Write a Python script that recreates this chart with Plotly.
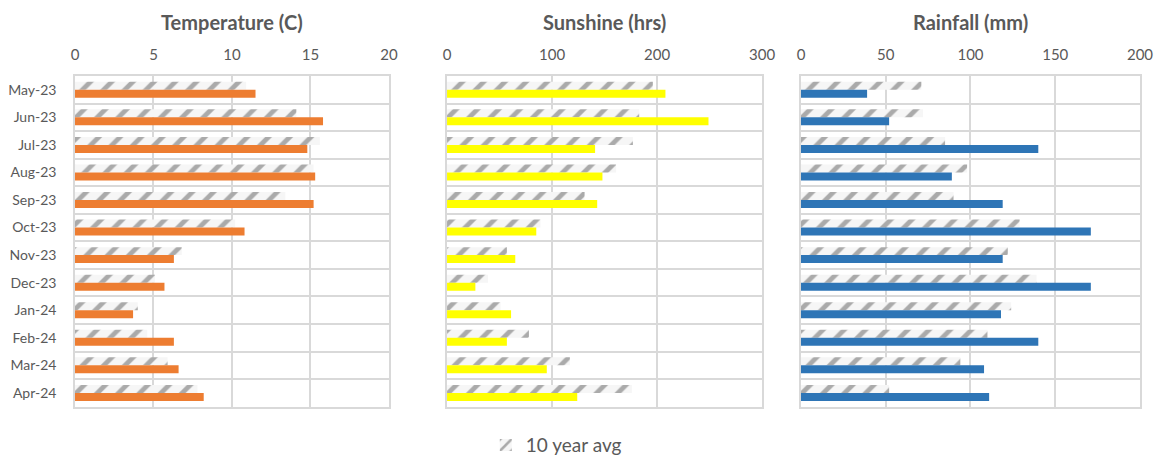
import plotly.graph_objects as go

months = ["May-23", "Jun-23", "Jul-23", "Aug-23", "Sep-23", "Oct-23",
          "Nov-23", "Dec-23", "Jan-24", "Feb-24", "Mar-24", "Apr-24"]

temp_actual = [11.5, 15.8, 14.8, 15.3, 15.2, 10.8, 6.3, 5.7, 3.7, 6.3, 6.6, 8.2]
temp_avg = [10.9, 14.1, 15.6, 15.2, 13.4, 10.2, 6.8, 5.1, 4.0, 4.6, 5.9, 7.8]

sun_actual = [208, 249, 141, 148, 143, 85, 65, 27, 61, 57, 95, 124]
sun_avg = [196, 183, 177, 161, 131, 89, 57, 39, 51, 78, 117, 176]

rain_actual = [39, 52, 140, 89, 119, 171, 119, 171, 118, 140, 108, 111]
rain_avg = [71, 72, 85, 98, 90, 129, 122, 139, 124, 110, 94, 52]

titles = ["Temperature (C)", "Sunshine (hrs)", "Rainfall (mm)"]
ranges = [[0, 20], [0, 300], [0, 200]]
dticks = [5, 100, 50]
colors = ["#ED7D31", "#FFFF00", "#2E75B6"]
avg_name = "10 year avg"

panels = [(temp_avg, temp_actual), (sun_avg, sun_actual), (rain_avg, rain_actual)]
x_domains = [[0.0647, 0.3356], [0.3857, 0.6575], [0.6911, 0.9836]]
y_domain = [0.1101, 0.8337]

FONT = "Lato"
GRAY = "#595959"
GRID = "#d9d9d9"

fig = go.Figure()
for i, (avg, act) in enumerate(panels):
    xa = "x" if i == 0 else f"x{i+1}"
    ya = "y" if i == 0 else f"y{i+1}"
    fig.add_trace(go.Bar(
        y=months, x=avg, orientation="h", name=avg_name,
        xaxis=xa, yaxis=ya, showlegend=(i == 0),
        marker=dict(color="#6f6f6f", line=dict(width=0),
                    pattern=dict(shape="/", fgcolor="#5e5e5e", bgcolor="#f6f6f6",
                                 size=15, solidity=0.32)),
    ))
    fig.add_trace(go.Bar(
        y=months, x=act, orientation="h", name=titles[i],
        xaxis=xa, yaxis=ya, showlegend=False,
        marker=dict(color=colors[i], line=dict(width=0)),
    ))

layout = dict(
    width=1159, height=457,
    margin=dict(l=0, r=0, t=0, b=0, autoexpand=False),
    paper_bgcolor="white", plot_bgcolor="white",
    barmode="group", bargap=0.42, bargroupgap=0.0,
    font=dict(family=FONT, color=GRAY, size=14),
    showlegend=True,
    legend=dict(orientation="h", x=0.48, xanchor="center", y=0.026, yanchor="middle",
                font=dict(family=FONT, size=19, color=GRAY), bgcolor="rgba(0,0,0,0)"),
    annotations=[],
)

for i in range(3):
    xk = "xaxis" if i == 0 else f"xaxis{i+1}"
    yk = "yaxis" if i == 0 else f"yaxis{i+1}"
    ya = "y" if i == 0 else f"y{i+1}"
    xa = "x" if i == 0 else f"x{i+1}"
    layout[xk] = dict(
        domain=x_domains[i], anchor=ya, side="top", range=ranges[i], dtick=dticks[i],
        showgrid=True, gridcolor=GRID, gridwidth=1.5, zeroline=False,
        showline=True, mirror=True, linecolor=GRID, linewidth=1.5,
        ticks="", ticklabelstandoff=8, automargin=False,
        tickfont=dict(family=FONT, size=15, color=GRAY), fixedrange=True,
    )
    layout[yk] = dict(
        domain=y_domain, anchor=xa, type="category", autorange="reversed",
        tickson="boundaries", showgrid=True, gridcolor=GRID, gridwidth=1.5,
        showline=True, mirror=True, linecolor=GRID, linewidth=1.5, zeroline=False,
        ticks="", showticklabels=(i == 0), ticklabelstandoff=14, automargin=False,
        tickfont=dict(family=FONT, size=14, color=GRAY), fixedrange=True,
    )
    cx = (x_domains[i][0] + x_domains[i][1]) / 2
    layout["annotations"].append(dict(
        text=f"<b>{titles[i]}</b>", x=cx, y=0.952, xref="paper", yref="paper",
        xanchor="center", yanchor="middle", showarrow=False,
        font=dict(family=FONT, size=20, color=GRAY),
    ))

fig.update_layout(**layout)
fig.write_html(
    "out.html",
    config={"displayModeBar": False},
    post_script="document.body.style.margin='0px';document.body.style.overflow='hidden';",
)
